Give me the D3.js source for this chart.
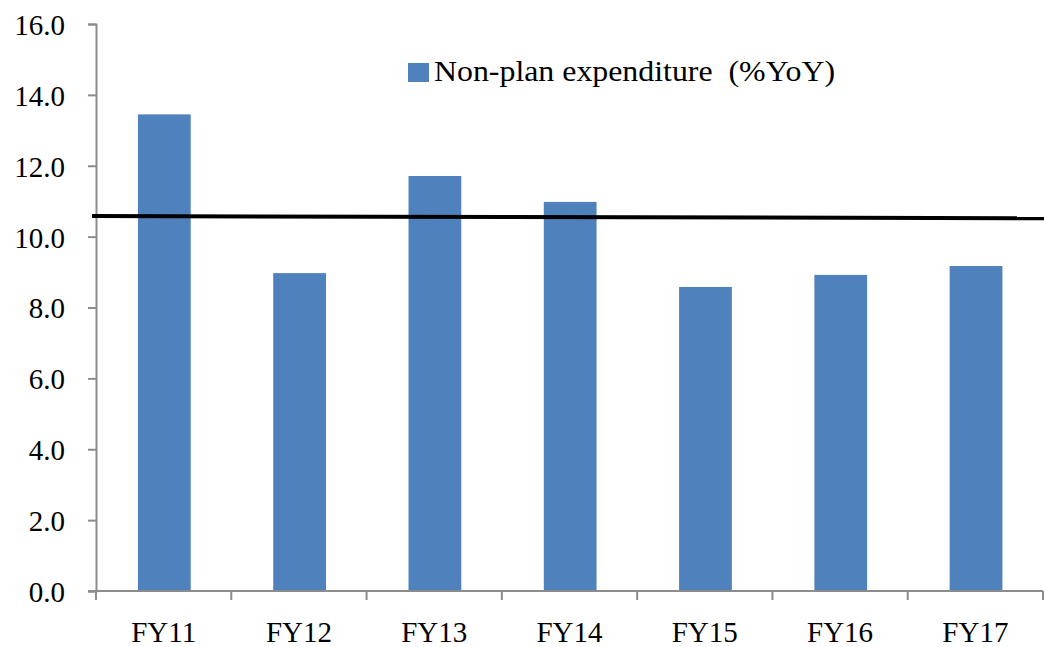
<!DOCTYPE html>
<html>
<head>
<meta charset="utf-8">
<script src="https://cdn.jsdelivr.net/npm/d3@7"></script>
<style>
  html, body { margin: 0; padding: 0; background: #fff; }
  svg { display: block; }
  text { font-family: "Liberation Serif", "DejaVu Serif", serif; fill: #000; }
</style>
</head>
<body>
<svg id="chart" width="1044" height="647"></svg>
<script>
// Data
const categories = ["FY11", "FY12", "FY13", "FY14", "FY15", "FY16", "FY17"];
const values = [13.45, 8.97, 11.71, 10.98, 8.58, 8.92, 9.17];
const seriesName = "Non-plan expenditure  (%YoY)";
const yTicks = [0, 2, 4, 6, 8, 10, 12, 14, 16];
const trendValues = [10.58, 10.52]; // line start (left edge) and end (right edge)

(function () {
const svg = d3.select("#chart");
const mLeft = 96, mRight = 1043, mTop = 24, mBottom = 591;
const fs = 29;
const serif = "'Liberation Serif', 'DejaVu Serif', serif";

const x = d3.scaleBand().domain(categories).range([mLeft, mRight]).padding(0);
const y = d3.scaleLinear().domain([0, 16]).range([mBottom, mTop]);

const barFrac = 0.39, barOffset = 0.31;

// Bars
svg.append("g").selectAll("rect").data(values).join("rect")
  .attr("x", (d, i) => x(categories[i]) + x.bandwidth() * barOffset)
  .attr("width", x.bandwidth() * barFrac)
  .attr("y", d => y(d))
  .attr("height", d => y(0) - y(d))
  .attr("fill", "#4f81bd");

// Y axis
const yAxis = d3.axisLeft(y).tickValues(yTicks).tickFormat(d3.format(".1f")).tickSize(8).tickPadding(23);
const gy = svg.append("g").attr("transform", `translate(${mLeft},0)`).call(yAxis)
  .attr("font-family", serif);
gy.select(".domain").attr("stroke", "#8c8c8c").attr("stroke-width", 2);
gy.selectAll(".tick line").attr("stroke", "#8c8c8c").attr("stroke-width", 2);
gy.selectAll(".tick text").attr("font-size", fs).style("font-family", serif).attr("fill", "#000").attr("dy", "0.36em");

// X axis
const gx = svg.append("g").attr("transform", `translate(0,${mBottom})`);
gx.append("line").attr("x1", mLeft - 8).attr("x2", mRight).attr("y1", 0).attr("y2", 0)
  .attr("stroke", "#8c8c8c").attr("stroke-width", 2);
const boundaries = categories.map(c => x(c)).concat([x(categories[categories.length - 1]) + x.bandwidth()]);
gx.selectAll("line.tk").data(boundaries).join("line").attr("class", "tk")
  .attr("x1", d => d).attr("x2", d => d).attr("y1", 0).attr("y2", 9)
  .attr("stroke", "#8c8c8c").attr("stroke-width", 2);
gx.selectAll("text").data(categories).join("text")
  .attr("x", d => x(d) + x.bandwidth() / 2)
  .attr("y", 51)
  .attr("text-anchor", "middle")
  .attr("font-size", fs)
  .style("font-family", serif)
  .text(d => d);

// Trend line
const lx = d3.scaleLinear().domain([0, 1]).range([mLeft - 4, 1044]);
svg.append("path")
  .datum(trendValues)
  .attr("d", d3.line().x((d, i) => lx(i)).y(d => y(d)))
  .attr("stroke", "#000").attr("stroke-width", 4).attr("fill", "none");

// Legend
const lg = svg.append("g");
lg.append("rect").attr("x", 408).attr("y", 63).attr("width", 21).attr("height", 19).attr("fill", "#4f81bd");
lg.append("text").attr("x", 434).attr("y", 81).attr("font-size", fs)
  .style("font-family", serif)
  .attr("textLength", 401).attr("lengthAdjust", "spacingAndGlyphs")
  .attr("xml:space", "preserve").style("white-space", "pre")
  .text(seriesName);
})();
</script>
</body>
</html>
